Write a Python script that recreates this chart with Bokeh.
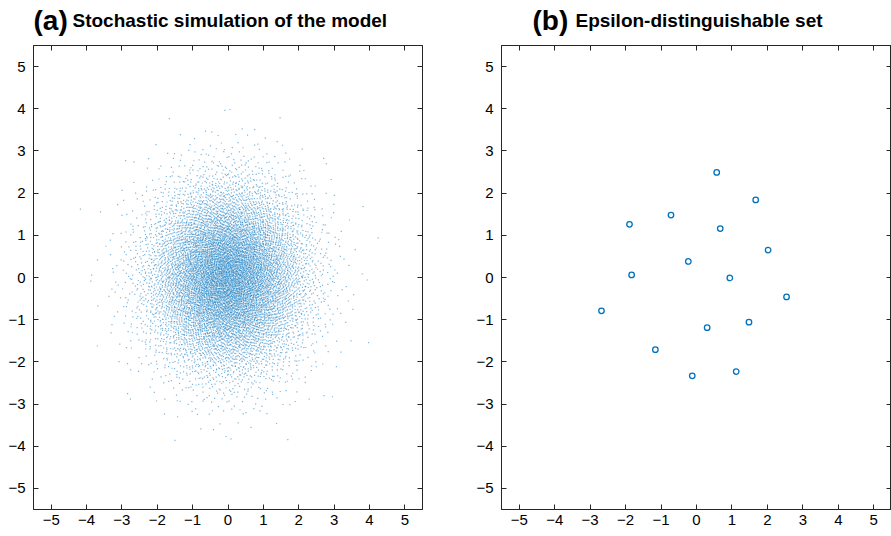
import math
from bokeh.plotting import figure
from bokeh.layouts import row, column
from bokeh.models import LinearAxis, FixedTicker, ColumnDataSource
from bokeh.core.properties import value
from bokeh.embed import file_html
from bokeh.resources import INLINE

# ---- data ----
# (a) stochastic cloud: estimated number of simulated points per radial ring (width 0.25)
ring_edges = [0.0, 0.25, 0.5, 0.75, 1.0, 1.25, 1.5, 1.75, 2.0, 2.25, 2.5,
              2.75, 3.0, 3.25, 3.5, 3.75, 4.0, 4.25, 4.5]
ring_counts = [250, 730, 1090, 1310, 1370, 1300, 1120, 910, 680, 480, 320,
               200, 115, 65, 33, 16, 8, 3]

# (b) epsilon-distinguishable set
eps_x = [0.57, 1.67, -0.72, -1.89, 0.67, 2.02, -0.23, -1.83, 0.94, 2.54, -2.68, 0.30, 1.48, -1.16, -0.12, 1.12]
eps_y = [2.49, 1.84, 1.48, 1.26, 1.16, 0.65, 0.38, 0.06, -0.01, -0.46, -0.79, -1.19, -1.06, -1.71, -2.33, -2.23]

ticks = [-5, -4, -3, -2, -1, 0, 1, 2, 3, 4, 5]
titles = ["Stochastic simulation of the model", "Epsilon-distinguishable set"]
tags = ["(a)", "(b)"]

BLUE = "#0072BD"
DARK = "#262626"
FONT = "Liberation Sans"


def radical_inverse(i, base):
    f, r = 1.0, 0.0
    while i > 0:
        f /= base
        r += f * (i % base)
        i //= base
    return r


# place each ring's points deterministically (low-discrepancy) inside the ring
cx, cy = [], []
k = 1
for r0, r1, n in zip(ring_edges[:-1], ring_edges[1:], ring_counts):
    for _ in range(n):
        u = radical_inverse(k, 2)
        v = radical_inverse(k, 3)
        k += 1
        rr = math.sqrt(r0 * r0 + v * (r1 * r1 - r0 * r0))
        a = 2 * math.pi * u
        cx.append(rr * math.cos(a))
        cy.append(rr * math.sin(a))

FRAME_H = 464
STRIP_H = 40


def make_fig(fw, min_left, min_right):
    p = figure(frame_width=fw, frame_height=FRAME_H, x_range=(-5.5, 5.5), y_range=(-5.5, 5.5),
               output_backend="svg", toolbar_location=None,
               min_border_left=min_left, min_border_right=min_right,
               min_border_top=5, min_border_bottom=19)
    p.xgrid.visible = False
    p.ygrid.visible = False
    p.outline_line_color = DARK
    p.outline_line_alpha = 1.0
    p.add_layout(LinearAxis(), "above")
    p.add_layout(LinearAxis(), "right")
    for ax in p.axis:
        ax.ticker = FixedTicker(ticks=ticks)
        ax.major_tick_in = 5
        ax.major_tick_out = 0
        ax.minor_tick_line_color = None
        ax.axis_line_color = DARK
        ax.major_tick_line_color = DARK
        ax.major_label_text_font = FONT
        ax.major_label_text_font_size = "15px"
        ax.major_label_text_color = "black"
    p.xaxis[0].major_label_standoff = 3
    p.yaxis[0].major_label_standoff = 8
    for ax in (p.above[0], p.right[0]):
        ax.major_label_text_font_size = "1px"
        ax.major_label_text_color = None
        ax.major_label_standoff = 0
    return p


def make_strip(fw, min_left, min_right, tag, text, tag_x, text_x):
    s = figure(frame_width=fw, frame_height=STRIP_H, x_range=(0, fw), y_range=(0, STRIP_H),
               output_backend="svg", toolbar_location=None,
               x_axis_location=None, y_axis_location=None,
               min_border_left=min_left, min_border_right=min_right,
               min_border_top=0, min_border_bottom=0)
    s.xgrid.visible = False
    s.ygrid.visible = False
    s.outline_line_color = None
    s.text(x=[tag_x], y=[20], text=[tag], text_font=value(FONT), text_font_size="28px",
           text_font_style="bold", text_baseline="alphabetic", text_align="left", text_color="black")
    s.text(x=[text_x], y=[20], text=[text], text_font=value(FONT), text_font_size="19px",
           text_font_style="bold", text_baseline="alphabetic", text_align="left", text_color="black")
    return s


FW1, L1, R1 = 389, 33, 24
p1 = make_fig(FW1, L1, R1)
p1.scatter(x=cx, y=cy, marker="square", size=1.2, fill_color=BLUE, fill_alpha=0.5, line_color=None)
s1 = make_strip(FW1, L1, R1, tags[0], titles[0], 0, 39)

FW2, L2, R2 = 390, 55, 0
p2 = make_fig(FW2, L2, R2)
src = ColumnDataSource(dict(x=eps_x, y=eps_y))
p2.scatter(x="x", y="y", source=src, marker="circle", size=5.5, fill_color=None,
           line_color=BLUE, line_width=1.3)
s2 = make_strip(FW2, L2, R2, tags[1], titles[1], 31, 74)

layout = row(column(s1, p1, spacing=0), column(s2, p2, spacing=0), spacing=0)
open("out.html", "w").write(file_html(layout, INLINE))
